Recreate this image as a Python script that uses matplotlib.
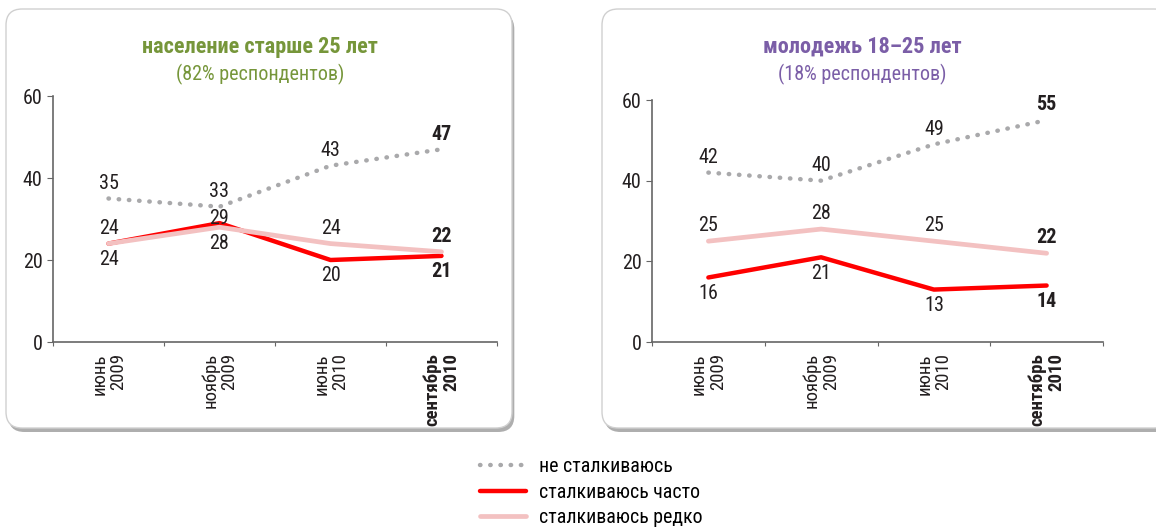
import matplotlib
matplotlib.use("Agg")
import matplotlib.pyplot as plt
from matplotlib.patches import FancyBboxPatch

plt.rcParams['font.family'] = ['Roboto Condensed', 'Lato', 'DejaVu Sans']

# Daten
periods = ["июнь\n2009", "ноябрь\n2009", "июнь\n2010", "сентябрь\n2010"]
series_names = ["не сталкиваюсь", "сталкиваюсь часто", "сталкиваюсь редко"]

older_never = [35, 33, 43, 47]
older_often = [24, 29, 20, 21]
older_rare = [24, 28, 24, 22]

young_never = [42, 40, 49, 55]
young_often = [16, 21, 13, 14]
young_rare = [25, 28, 25, 22]

# Label oben (+1), unten (-1), fast auf der Linie (0)
older_often_pos = [1, 0, -1, -1]
older_rare_pos = [-1, -1, 1, 1]
young_often_pos = [-1, -1, -1, -1]
young_rare_pos = [1, 1, 1, 1]

GRAY = "#a9a9ab"
RED = "#ff0000"
PINK = "#f3c1c1"
TXT = "#231f20"

fig = plt.figure(figsize=(11.56, 5.30), dpi=100)
W, H = 1156, 530


def panel_box(x0, y0, x1, y1):
    # Schatten + weisse Box (Pixelkoordinaten von oben)
    kw = dict(boxstyle="round,pad=0,rounding_size=0.014", transform=fig.transFigure,
              mutation_aspect=W / H, zorder=-5)
    sh = FancyBboxPatch((x0 / W + 0.002, 1 - (y1 + 4) / H), (x1 - x0) / W, (y1 - y0) / H,
                        facecolor="#9a9a9a", edgecolor="none", alpha=0.8, **kw)
    bx = FancyBboxPatch((x0 / W, 1 - y1 / H), (x1 - x0) / W, (y1 - y0) / H,
                        facecolor="white", edgecolor="#d0d0d0", linewidth=1, **kw)
    fig.patches.extend([sh, bx])


panel_box(6, 9, 512, 428)
panel_box(602, 9, 1170, 428)

OFFSETS = {1: 11, 0: 3, -1: -11.5}


def draw_panel(ax, never, often, rare, often_pos, rare_pos):
    x = range(len(periods))
    l1, = ax.plot(x, never, color=GRAY, lw=3.2, linestyle=(0, (0.1, 2.2)),
                  dash_capstyle="round", label=series_names[0])
    l2, = ax.plot(x, often, color=RED, lw=3.2, solid_capstyle="round", label=series_names[1])
    l3, = ax.plot(x, rare, color=PINK, lw=3.4, solid_capstyle="round", label=series_names[2])

    last = len(periods) - 1
    for vals, pos in [(never, [1] * 4), (often, often_pos), (rare, rare_pos)]:
        for i, v in enumerate(vals):
            ax.annotate(str(v), (i, v), xytext=(0, OFFSETS[pos[i]]), textcoords="offset points",
                        ha="center", va="center", fontsize=14.5, color=TXT,
                        fontweight="bold" if i == last else "normal")

    ax.set_xlim(-0.5, 3.5)
    ax.set_ylim(0, 60)
    ax.set_yticks([0, 20, 40, 60])
    ax.tick_params(axis="y", labelsize=14.5, colors=TXT, length=4, direction="out")
    ax.set_xticks([-0.5, 0.5, 1.5, 2.5, 3.5])
    ax.set_xticklabels([])
    ax.set_xticks(list(x), minor=True)
    ax.set_xticklabels(periods, minor=True, rotation=90, va="top", ha="center",
                       multialignment="right", fontsize=13.5, color=TXT, linespacing=1.05)
    ax.tick_params(axis="x", which="major", length=3, color="#666666")
    ax.tick_params(axis="x", which="minor", length=0, pad=8)
    ax.get_xticklabels(minor=True)[-1].set_fontweight("bold")
    for s in ["top", "right"]:
        ax.spines[s].set_visible(False)
    for s in ["left", "bottom"]:
        ax.spines[s].set_color("#666666")
        ax.spines[s].set_linewidth(1.2)
    ax.tick_params(axis="y", color="#666666")
    ax.patch.set_alpha(0)
    return [l1, l2, l3]


ax1 = fig.add_axes([53 / W, 1 - 342 / H, 444 / W, 246 / H])
handles = draw_panel(ax1, older_never, older_often, older_rare, older_often_pos, older_rare_pos)

ax2 = fig.add_axes([652 / W, 1 - 342 / H, 451 / W, 242 / H])
draw_panel(ax2, young_never, young_often, young_rare, young_often_pos, young_rare_pos)

# Titel
fig.text(260 / W, 1 - 47 / H, "население старше 25 лет", ha="center", va="center",
         fontsize=16, fontweight="bold", color="#76963a")
fig.text(260 / W, 1 - 74 / H, "(82% респондентов)", ha="center", va="center",
         fontsize=14.5, color="#76963a")
fig.text(862 / W, 1 - 47 / H, "молодежь 18–25 лет", ha="center", va="center",
         fontsize=16, fontweight="bold", color="#7b5ea7")
fig.text(862 / W, 1 - 74 / H, "(18% респондентов)", ha="center", va="center",
         fontsize=14.5, color="#7b5ea7")

# Legende
fig.legend(handles=handles, labels=series_names, loc="upper left",
           bbox_to_anchor=(480 / W, 1 - 457 / H), frameon=False, fontsize=14.3,
           handlelength=2.3, labelspacing=0.33, handletextpad=0.65, borderpad=0,
           borderaxespad=0)

fig.savefig("out.png", dpi=100)
